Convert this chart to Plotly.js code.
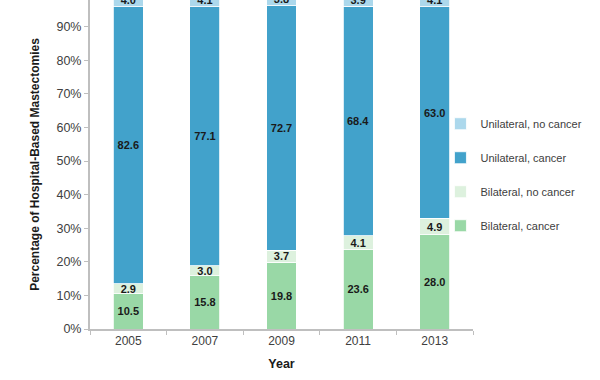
<!DOCTYPE html>
<html>
<head>
<meta charset="utf-8">
<script src="https://cdn.plot.ly/plotly-3.0.1.min.js"></script>
<style>html,body{margin:0;padding:0;background:#fff;}#chart{width:600px;height:380px;}</style>
</head>
<body>
<div id="chart"></div>
<script>
var years = ["2005", "2007", "2009", "2011", "2013"];
var bilateralCancer = [10.5, 15.8, 19.8, 23.6, 28.0];
var bilateralNoCancer = [2.9, 3.0, 3.7, 4.1, 4.9];
var unilateralCancer = [82.6, 77.1, 72.7, 68.4, 63.0];
var unilateralNoCancer = [4.0, 4.1, 3.8, 3.9, 4.1];
var seriesNames = ["Bilateral, cancer", "Bilateral, no cancer", "Unilateral, cancer", "Unilateral, no cancer"];
var seriesColors = ["#99d8a6", "#ddf1de", "#42a2cb", "#acd8ec"];
var seriesValues = [bilateralCancer, bilateralNoCancer, unilateralCancer, unilateralNoCancer];

var traces = seriesValues.map(function (vals, i) {
  return {
    type: "bar",
    name: seriesNames[i],
    x: years,
    y: vals,
    text: vals.map(function (v) { return v.toFixed(1); }),
    textposition: "inside",
    insidetextanchor: "middle",
    constraintext: "none",
    textangle: 0,
    textfont: {family: "Liberation Sans, Arial, sans-serif", size: 11, color: "#1a1a1a", weight: "bold"},
    marker: {color: seriesColors[i], line: {color: "#ffffff", width: 0.8}},
    width: 0.39,
    legendgroup: "g" + i,
    legendrank: 10 - i,
    hoverinfo: "none"
  };
});

var layout = {
  width: 600,
  height: 380,
  margin: {l: 90, r: 127, t: 0, b: 51},
  paper_bgcolor: "#ffffff",
  plot_bgcolor: "#ffffff",
  barmode: "stack",
  font: {family: "Liberation Sans, Arial, sans-serif", size: 12, color: "#404040"},
  xaxis: {
    type: "category",
    showline: true,
    linecolor: "#bfbfbf",
    linewidth: 2,
    ticks: "outside",
    tickson: "boundaries",
    ticklen: 4,
    tickcolor: "#bfbfbf",
    tickwidth: 1,
    tickfont: {size: 12, color: "#404040"},
    showgrid: false,
    zeroline: false,
    title: {text: "Year", font: {size: 12.5, color: "#1a1a1a", weight: "bold"}, standoff: 12}
  },
  yaxis: {
    range: [0, 97.94],
    tickvals: [0, 10, 20, 30, 40, 50, 60, 70, 80, 90],
    ticktext: ["0%", "10%", "20%", "30%", "40%", "50%", "60%", "70%", "80%", "90%"],
    showline: true,
    linecolor: "#bfbfbf",
    linewidth: 2,
    ticks: "outside",
    ticklen: 4,
    tickcolor: "#bfbfbf",
    tickwidth: 1,
    tickfont: {size: 12.5, color: "#404040"},
    showgrid: false,
    zeroline: false,
    title: {text: "Percentage of Hospital-Based Mastectomies", font: {size: 12, color: "#1a1a1a", weight: "bold"}, standoff: 14}
  },
  showlegend: true,
  legend: {
    x: 0.915,
    xanchor: "left",
    y: 0.668,
    yanchor: "top",
    traceorder: "grouped",
    tracegroupgap: 15,
    bgcolor: "rgba(0,0,0,0)",
    font: {size: 11, color: "#404040"}
  }
};

Plotly.newPlot("chart", traces, layout, {displayModeBar: false, staticPlot: true});
</script>
</body>
</html>
